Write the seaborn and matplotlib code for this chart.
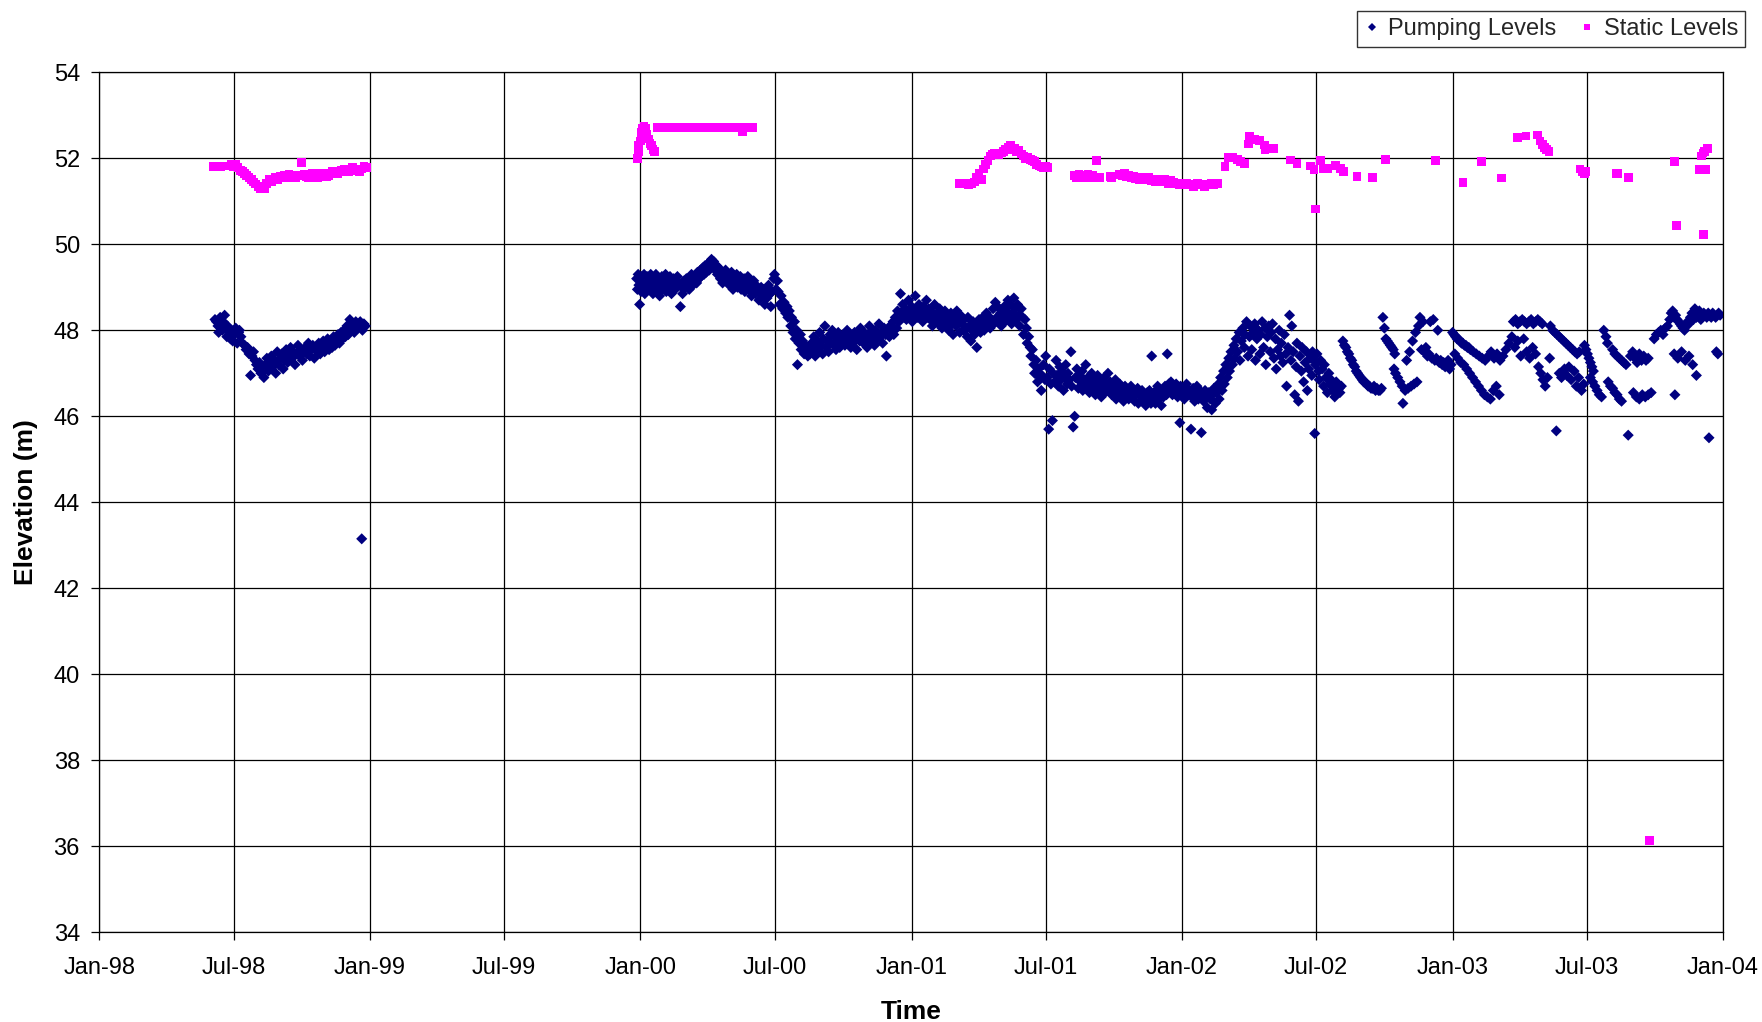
import matplotlib
matplotlib.use("Agg")
import matplotlib.pyplot as plt
import matplotlib.dates as mdates
from matplotlib.lines import Line2D
import numpy as np
import pandas as pd
import seaborn as sns

# Readings as (days since 1 Jan 1998, elevation in m)
pumping_1998 = [
    (156, 48.25), (158, 48.2), (160, 48.1), (161, 47.95), (163, 48.3), (164, 48.15), (166, 48.0),
    (167, 48.2), (169, 48.35), (170, 48.05), (172, 47.85), (173, 48.1), (175, 47.95), (177, 47.8),
    (178, 48.0), (180, 47.75), (182, 47.9), (184, 48.05), (186, 47.7), (188, 47.95), (189, 48.0),
    (191, 47.85), (193, 47.7), (196, 47.65), (198, 47.55), (200, 47.6), (202, 47.45), (204, 46.95),
    (206, 47.4), (208, 47.5), (210, 47.3), (212, 47.2), (214, 47.1), (216, 47.25), (218, 47.0),
    (220, 47.15), (222, 46.9), (224, 47.2), (226, 47.35), (228, 47.05), (230, 47.25), (232, 47.4),
    (234, 47.15), (236, 47.3), (238, 47.0), (240, 47.5), (242, 47.2), (244, 47.35), (246, 47.45),
    (248, 47.1), (250, 47.3), (252, 47.55), (254, 47.25), (256, 47.4), (258, 47.6), (260, 47.35),
    (262, 47.5), (264, 47.2), (266, 47.45), (268, 47.65), (270, 47.4), (272, 47.55), (274, 47.3),
    (276, 47.5), (278, 47.6), (280, 47.45), (282, 47.7), (284, 47.4), (286, 47.55), (288, 47.65),
    (290, 47.35), (292, 47.6), (294, 47.5), (296, 47.7), (298, 47.45), (300, 47.6), (302, 47.75),
    (304, 47.5), (306, 47.65), (308, 47.8), (310, 47.55), (312, 47.7), (314, 47.6), (316, 47.85),
    (318, 47.65), (320, 47.8), (322, 47.9), (324, 47.7), (326, 47.95), (328, 47.8), (330, 48.0),
    (332, 47.85), (334, 48.1), (336, 47.9), (338, 48.25), (340, 48.0), (342, 48.15), (344, 47.95),
    (346, 48.2), (348, 48.05), (350, 48.1), (352, 48.2), (354, 43.15), (355, 48.0), (357, 48.15),
    (359, 48.1),
]

pumping_2000 = [
    (725, 49.2), (726, 48.95), (727, 49.3), (728, 49.05), (729, 48.6), (730, 49.15), (731, 48.9),
    (732, 49.25), (734, 49.0), (735, 49.3), (736, 48.85), (738, 49.1), (739, 49.25), (741, 48.95),
    (742, 49.15), (744, 49.3), (745, 49.0), (747, 48.85), (748, 49.2), (750, 49.05), (751, 49.3),
    (753, 48.95), (754, 49.15), (756, 48.8), (757, 49.05), (759, 49.25), (760, 48.95), (762, 49.1),
    (764, 49.3), (765, 48.9), (767, 49.2), (769, 49.0), (770, 49.25), (772, 48.85), (774, 49.1),
    (775, 49.2), (777, 48.95), (779, 49.05), (780, 49.25), (782, 49.1), (784, 48.55), (786, 49.0),
    (787, 48.85), (789, 49.15), (791, 49.0), (792, 49.2), (794, 49.1), (796, 48.95), (797, 49.2),
    (799, 49.3), (801, 49.05), (802, 49.15), (804, 49.25), (806, 49.1), (807, 49.35), (809, 49.2),
    (811, 49.4), (812, 49.25), (814, 49.45), (816, 49.3), (817, 49.5), (819, 49.35), (821, 49.55),
    (823, 49.4), (824, 49.6), (826, 49.65), (828, 49.5), (829, 49.6), (831, 49.4), (833, 49.5),
    (834, 49.3), (836, 49.45), (838, 49.2), (840, 49.35), (841, 49.1), (843, 49.25), (845, 49.4),
    (846, 49.15), (848, 49.3), (850, 49.05), (851, 49.2), (853, 49.35), (855, 48.95), (856, 49.2),
    (858, 49.1), (860, 49.3), (861, 49.0), (863, 49.15), (865, 49.25), (866, 48.95), (868, 49.1),
    (870, 49.2), (871, 48.9), (873, 49.05), (875, 49.25), (876, 48.95), (878, 49.1), (880, 48.8),
    (881, 49.0), (883, 49.15), (885, 48.85), (886, 49.05), (888, 48.95), (890, 48.7), (891, 48.9),
    (893, 49.0), (895, 48.8), (896, 48.95), (898, 48.6), (900, 48.9), (901, 48.75), (903, 49.05),
    (905, 48.85), (906, 48.55), (908, 48.9), (910, 49.2), (911, 49.3), (913, 48.95), (915, 49.15),
    (916, 48.9), (918, 48.6), (920, 48.8), (922, 48.5), (924, 48.65), (926, 48.4), (928, 48.55),
    (929, 48.3), (931, 48.45), (933, 48.1), (934, 48.3), (936, 47.95), (938, 48.2), (939, 47.8),
    (941, 48.0), (942, 47.2), (944, 47.7), (946, 47.9), (947, 47.55), (949, 47.75), (951, 47.45),
    (952, 47.65), (954, 47.5), (956, 47.4), (957, 47.6), (959, 47.45), (961, 47.7), (962, 47.5),
    (964, 47.85), (966, 47.4), (967, 47.6), (969, 47.75), (971, 47.5), (972, 47.95), (974, 47.65),
    (976, 47.45), (977, 47.8), (979, 48.1), (981, 47.6), (982, 47.75), (984, 47.5), (986, 47.9),
    (987, 47.7), (989, 48.0), (991, 47.65), (992, 47.85), (994, 47.55), (996, 47.8), (997, 47.95),
    (999, 47.6), (1001, 47.85), (1002, 47.7), (1004, 47.9), (1006, 47.65), (1007, 47.8),
    (1009, 48.0), (1011, 47.75), (1012, 47.9), (1014, 47.6), (1016, 47.85), (1017, 47.7),
    (1019, 47.95), (1021, 47.8), (1022, 47.55), (1024, 47.9), (1026, 47.75), (1027, 48.05),
    (1029, 47.85), (1031, 47.7), (1032, 47.95), (1034, 47.8), (1036, 47.6), (1037, 47.9),
    (1039, 48.1), (1041, 47.75), (1042, 47.95), (1044, 47.85), (1046, 47.65), (1047, 48.0),
    (1049, 47.8), (1051, 47.9), (1052, 48.15), (1054, 47.85), (1056, 47.95), (1057, 47.7),
    (1059, 48.05), (1061, 47.9), (1062, 47.4), (1064, 48.0), (1066, 47.85), (1067, 48.1),
    (1069, 47.95), (1071, 48.2), (1072, 47.9), (1074, 48.3), (1076, 48.05), (1077, 48.45),
    (1079, 48.2), (1081, 48.85), (1082, 48.4), (1084, 48.6), (1086, 48.3), (1087, 48.5),
    (1089, 48.25), (1091, 48.45), (1092, 48.7), (1094, 48.35),
]

pumping_2001 = [
    (1096, 48.55), (1097, 48.2), (1099, 48.4), (1101, 48.8), (1102, 48.5), (1104, 48.3),
    (1106, 48.6), (1107, 48.35), (1109, 48.45), (1111, 48.2), (1112, 48.55), (1114, 48.4),
    (1116, 48.7), (1117, 48.3), (1119, 48.5), (1121, 48.25), (1122, 48.45), (1124, 48.1),
    (1126, 48.35), (1127, 48.6), (1129, 48.2), (1131, 48.4), (1132, 48.15), (1134, 48.5),
    (1136, 48.3), (1137, 48.05), (1139, 48.25), (1141, 48.45), (1142, 48.1), (1144, 48.35),
    (1146, 48.0), (1147, 48.2), (1149, 48.4), (1151, 48.15), (1152, 47.9), (1154, 48.3),
    (1156, 48.1), (1157, 48.45), (1159, 48.2), (1161, 47.95), (1162, 48.35), (1164, 48.15),
    (1166, 48.0), (1167, 48.25), (1169, 48.05), (1171, 47.85), (1172, 48.3), (1174, 48.1),
    (1176, 47.75), (1177, 48.0), (1179, 48.2), (1181, 47.9), (1182, 48.1), (1184, 47.6),
    (1186, 48.05), (1187, 48.25), (1189, 47.95), (1191, 48.15), (1192, 48.3), (1194, 48.0),
    (1196, 48.2), (1197, 48.4), (1199, 48.1), (1201, 48.3), (1202, 48.05), (1204, 48.25),
    (1206, 48.5), (1207, 48.15), (1209, 48.65), (1211, 48.3), (1212, 48.55), (1214, 48.2),
    (1216, 48.4), (1217, 48.1), (1219, 48.35), (1221, 48.55), (1222, 48.2), (1224, 48.45),
    (1226, 48.7), (1227, 48.3), (1229, 48.6), (1231, 48.15), (1232, 48.4), (1234, 48.75),
    (1236, 48.5), (1237, 48.25), (1239, 48.6), (1241, 48.35), (1242, 48.1), (1244, 48.5),
    (1246, 48.3), (1247, 47.9), (1249, 48.25), (1251, 48.05), (1252, 47.7), (1254, 47.85),
    (1256, 47.6), (1257, 47.4), (1259, 47.55), (1261, 47.2), (1262, 47.0), (1264, 47.3),
    (1266, 46.8), (1267, 47.1), (1269, 46.9), (1271, 46.6), (1272, 46.95), (1274, 47.2),
    (1276, 46.85), (1277, 47.4), (1279, 46.9), (1281, 45.7), (1282, 47.1), (1284, 46.75),
    (1286, 45.9), (1287, 47.0), (1289, 46.8), (1291, 47.3), (1292, 46.95), (1294, 46.7),
    (1296, 47.15), (1297, 46.85), (1299, 47.05), (1301, 46.6), (1302, 46.9), (1304, 47.2),
    (1306, 46.75), (1307, 47.0), (1309, 46.85), (1311, 47.5), (1312, 46.7), (1314, 45.75),
    (1316, 46.0), (1317, 46.9), (1319, 47.1), (1321, 46.65), (1322, 46.95), (1324, 46.8),
    (1326, 47.05), (1327, 46.6), (1329, 46.85), (1331, 47.2), (1332, 46.7), (1334, 46.9),
    (1336, 46.55), (1337, 46.8), (1339, 47.0), (1341, 46.65), (1342, 46.9), (1344, 46.5),
    (1346, 46.75), (1347, 46.95), (1349, 46.6), (1351, 46.8), (1352, 46.45), (1354, 46.7),
    (1356, 46.9), (1357, 46.55), (1359, 46.75), (1361, 47.0), (1362, 46.6), (1364, 46.8),
    (1366, 46.5), (1367, 46.7), (1369, 46.55), (1371, 46.85), (1372, 46.4), (1374, 46.65),
    (1376, 46.5), (1377, 46.75), (1379, 46.45), (1381, 46.6), (1382, 46.35), (1384, 46.7),
    (1386, 46.5), (1387, 46.6), (1389, 46.4), (1391, 46.55), (1392, 46.7), (1394, 46.45),
    (1396, 46.6), (1397, 46.35), (1399, 46.5), (1401, 46.65), (1402, 46.3), (1404, 46.55),
    (1406, 46.45), (1407, 46.6), (1409, 46.35), (1411, 46.5), (1412, 46.25), (1414, 46.55),
    (1416, 46.4), (1417, 46.6), (1419, 46.3), (1420, 47.4), (1421, 46.45), (1423, 46.55),
    (1425, 46.3), (1426, 46.5), (1428, 46.7), (1430, 46.4), (1431, 46.55), (1433, 46.25),
    (1435, 46.6), (1436, 46.45), (1438, 46.7), (1440, 46.5), (1441, 47.45), (1443, 46.75),
    (1445, 46.6), (1446, 46.8), (1448, 46.5), (1450, 46.7), (1451, 46.55), (1453, 46.75),
    (1455, 46.45), (1456, 46.65), (1458, 45.85), (1459, 46.7),
]

pumping_2002 = [
    (1461, 46.5), (1462, 46.65), (1464, 46.4), (1466, 46.6), (1467, 46.75), (1469, 46.5),
    (1471, 46.6), (1473, 45.7), (1474, 46.45), (1476, 46.65), (1478, 46.35), (1479, 46.55),
    (1481, 46.7), (1483, 46.4), (1485, 46.6), (1487, 45.62), (1488, 46.5), (1490, 46.35),
    (1492, 46.6), (1494, 46.45), (1495, 46.2), (1497, 46.55), (1499, 46.4), (1501, 46.15),
    (1502, 46.5), (1504, 46.65), (1506, 46.3), (1508, 46.55), (1510, 46.75), (1511, 46.4),
    (1513, 46.9), (1515, 46.6), (1517, 47.05), (1518, 46.75), (1520, 47.2), (1522, 46.9),
    (1524, 47.35), (1525, 47.05), (1527, 47.5), (1529, 47.2), (1531, 47.65), (1532, 47.35),
    (1534, 47.8), (1536, 47.5), (1538, 47.95), (1539, 47.3), (1541, 47.75), (1543, 48.05),
    (1545, 47.6), (1546, 47.9), (1548, 48.2), (1550, 47.4), (1552, 47.85), (1553, 48.1),
    (1555, 47.55), (1557, 47.95), (1559, 48.15), (1560, 47.3), (1562, 47.8), (1564, 48.0),
    (1566, 47.45), (1567, 47.9), (1569, 48.2), (1571, 47.6), (1573, 48.05), (1574, 47.2),
    (1576, 47.85), (1578, 48.1), (1580, 47.5), (1581, 47.95), (1583, 48.15), (1585, 47.35),
    (1587, 47.8), (1588, 47.1), (1590, 47.55), (1592, 48.0), (1594, 47.4), (1595, 47.7),
    (1597, 47.25), (1599, 47.9), (1601, 47.45), (1602, 46.7), (1604, 47.6), (1606, 48.35),
    (1608, 47.3), (1609, 48.1), (1611, 47.5), (1613, 46.5), (1615, 47.15), (1616, 47.7),
    (1618, 46.35), (1620, 47.4), (1622, 47.05), (1623, 47.6), (1625, 46.8), (1627, 47.25),
    (1629, 47.5), (1630, 46.6), (1632, 47.1), (1634, 47.35), (1636, 46.95), (1637, 47.5),
    (1639, 47.3), (1640, 45.6), (1641, 47.2), (1643, 47.45), (1645, 47.05), (1646, 46.85),
    (1648, 47.3), (1650, 47.1), (1652, 46.7), (1653, 47.2), (1655, 46.9), (1657, 46.55),
    (1659, 47.0), (1660, 46.75), (1662, 46.85), (1664, 46.6), (1666, 46.7), (1667, 46.45),
    (1669, 46.8), (1671, 46.6), (1673, 46.65), (1674, 46.55), (1676, 46.7), (1678, 47.75),
    (1680, 47.65), (1682, 47.6), (1684, 47.5), (1686, 47.45), (1688, 47.35), (1690, 47.3),
    (1692, 47.2), (1694, 47.15), (1696, 47.05), (1698, 47.0), (1700, 46.95), (1702, 46.9),
    (1704, 46.85), (1706, 46.8), (1708, 46.8), (1710, 46.75), (1712, 46.7), (1714, 46.7),
    (1716, 46.65), (1718, 46.65), (1720, 46.7), (1722, 46.6), (1724, 46.65), (1726, 46.6),
    (1728, 46.6), (1730, 46.65), (1732, 48.3), (1734, 48.05), (1736, 47.8), (1738, 47.75),
    (1740, 47.7), (1742, 47.65), (1744, 47.6), (1746, 47.55), (1748, 47.45), (1747, 47.1),
    (1749, 47.0), (1752, 46.9), (1755, 46.8), (1758, 46.7), (1759, 46.3), (1762, 46.6),
    (1764, 47.3), (1766, 46.65), (1768, 47.5), (1770, 46.7), (1772, 47.75), (1774, 46.75),
    (1776, 47.95), (1778, 46.8), (1780, 48.1), (1782, 48.3), (1784, 47.55), (1786, 48.2),
    (1788, 47.5), (1790, 47.6), (1792, 47.4), (1794, 47.45), (1796, 48.2), (1798, 47.35),
    (1800, 48.25), (1802, 47.3), (1804, 47.35), (1806, 48.0), (1808, 47.25), (1810, 47.3),
    (1812, 47.2), (1814, 47.25), (1816, 47.15), (1818, 47.2), (1820, 47.3), (1822, 47.1),
    (1824, 47.2),
]

pumping_2003 = [
    (1826, 47.95), (1828, 47.9), (1830, 47.85), (1832, 47.8), (1834, 47.8), (1836, 47.75),
    (1838, 47.7), (1840, 47.7), (1842, 47.65), (1844, 47.65), (1846, 47.6), (1848, 47.6),
    (1850, 47.55), (1829, 47.45), (1833, 47.35), (1837, 47.25), (1841, 47.2), (1845, 47.1),
    (1849, 47.0), (1853, 46.9), (1857, 46.8), (1861, 46.7), (1854, 47.5), (1858, 47.45),
    (1862, 47.4), (1866, 47.35), (1870, 47.3), (1874, 47.4), (1878, 47.5), (1882, 47.35),
    (1886, 47.45), (1890, 47.3), (1894, 47.4), (1898, 47.55), (1865, 46.6), (1869, 46.5),
    (1873, 46.45), (1877, 46.4), (1881, 46.6), (1885, 46.7), (1889, 46.5), (1902, 47.7),
    (1906, 47.85), (1908, 48.2), (1911, 48.25), (1914, 48.15), (1917, 48.2), (1920, 48.25),
    (1923, 48.2), (1926, 48.15), (1929, 48.2), (1932, 48.25), (1935, 48.15), (1938, 48.2),
    (1941, 48.25), (1944, 48.2), (1947, 48.15), (1910, 47.6), (1914, 47.75), (1918, 47.4),
    (1922, 47.8), (1926, 47.5), (1930, 47.35), (1934, 47.6), (1938, 47.45), (1942, 47.15),
    (1945, 47.0), (1948, 46.85), (1951, 46.7), (1954, 46.9), (1957, 47.35), (1958, 48.1),
    (1961, 48.0), (1964, 47.95), (1966, 45.66), (1967, 47.9), (1970, 47.85), (1973, 47.8),
    (1976, 47.75), (1979, 47.7), (1982, 47.65), (1985, 47.6), (1988, 47.55), (1991, 47.5),
    (1994, 47.45), (1997, 47.5), (1970, 47.0), (1973, 46.9), (1977, 47.1), (1980, 46.95),
    (1983, 47.15), (1986, 46.85), (1990, 47.05), (1993, 46.7), (1996, 46.9), (2000, 46.6),
    (2003, 46.75), (2004, 47.65), (2006, 47.55), (2008, 47.45), (2010, 47.35), (2012, 47.25),
    (2014, 47.15), (2016, 47.05), (2012, 46.9), (2015, 46.8), (2018, 46.7), (2021, 46.6),
    (2024, 46.5), (2027, 46.45), (2030, 48.0), (2033, 47.85), (2035, 47.7), (2036, 46.8),
    (2039, 46.7), (2042, 46.65), (2045, 46.55), (2048, 46.5), (2051, 46.4), (2054, 46.35),
    (2042, 47.55), (2045, 47.45), (2048, 47.4), (2051, 47.35), (2054, 47.3), (2057, 47.25),
    (2060, 47.2), (2063, 45.56), (2066, 47.4), (2069, 47.5), (2072, 47.35), (2075, 47.25),
    (2078, 47.45), (2081, 47.3), (2084, 47.4), (2087, 47.3), (2090, 47.35), (2070, 46.55),
    (2074, 46.45), (2078, 46.4), (2082, 46.5), (2086, 46.45), (2090, 46.5), (2094, 46.55),
    (2098, 47.8), (2101, 47.9), (2104, 47.95), (2107, 48.0), (2110, 47.9), (2113, 48.05),
    (2116, 48.1), (2119, 48.25), (2121, 48.4), (2123, 48.45), (2125, 48.3), (2127, 48.35),
    (2129, 48.25), (2131, 48.2), (2133, 48.15), (2135, 48.1), (2137, 48.05), (2139, 48.0),
    (2141, 48.1), (2143, 48.2), (2145, 48.15), (2147, 48.3), (2149, 48.4), (2151, 48.25),
    (2153, 48.5), (2155, 48.3), (2157, 48.35), (2159, 48.45), (2161, 48.25), (2163, 48.3),
    (2165, 48.4), (2167, 48.35), (2169, 48.3), (2171, 48.4), (2173, 48.35), (2175, 48.3),
    (2177, 48.4), (2179, 48.35), (2181, 48.3), (2183, 48.35), (2185, 48.4), (2187, 48.35),
    (2125, 47.45), (2130, 47.35), (2135, 47.5), (2140, 47.3), (2145, 47.4), (2150, 47.2),
    (2126, 46.5), (2155, 46.95), (2172, 45.5), (2182, 47.5), (2184, 47.45),
]

static_1998 = [
    (154, 51.8), (158, 51.8), (163, 51.8), (175, 51.82), (178, 51.85), (181, 51.8), (184, 51.85),
    (187, 51.78), (190, 51.72), (193, 51.7), (196, 51.65), (199, 51.6), (202, 51.55), (205, 51.5),
    (208, 51.45), (211, 51.4), (214, 51.35), (217, 51.3), (220, 51.35), (223, 51.3), (226, 51.42),
    (229, 51.5), (232, 51.45), (235, 51.52), (238, 51.55), (241, 51.5), (244, 51.58), (247, 51.55),
    (250, 51.6), (253, 51.55), (256, 51.62), (259, 51.58), (262, 51.6), (265, 51.55), (268, 51.6),
    (273, 51.9), (276, 51.62), (279, 51.58), (282, 51.55), (285, 51.6), (288, 51.65), (291, 51.6),
    (294, 51.55), (297, 51.6), (300, 51.65), (303, 51.62), (306, 51.58), (309, 51.6), (312, 51.65),
    (315, 51.7), (318, 51.68), (321, 51.65), (324, 51.7), (327, 51.72), (330, 51.75), (333, 51.7),
    (336, 51.68), (339, 51.72), (342, 51.78), (345, 51.75), (348, 51.72), (351, 51.68),
    (354, 51.75), (357, 51.8), (360, 51.78),
]

static_2000 = [
    (726, 52.0), (727, 52.15), (728, 52.3), (730, 52.4), (731, 52.6), (733, 52.7), (735, 52.75),
    (737, 52.7), (739, 52.55), (741, 52.45), (743, 52.35), (745, 52.3), (747, 52.2), (749, 52.15),
    (753, 52.72), (756, 52.72), (759, 52.72), (762, 52.72), (765, 52.72), (768, 52.72),
    (771, 52.72), (774, 52.72), (777, 52.72), (780, 52.72), (783, 52.72), (786, 52.72),
    (789, 52.72), (792, 52.72), (795, 52.72), (798, 52.72), (801, 52.72), (804, 52.72),
    (807, 52.72), (810, 52.72), (813, 52.72), (816, 52.72), (819, 52.72), (822, 52.72),
    (825, 52.72), (828, 52.72), (831, 52.72), (834, 52.72), (837, 52.72), (840, 52.72),
    (843, 52.72), (846, 52.72), (849, 52.72), (852, 52.72), (855, 52.72), (858, 52.72),
    (861, 52.72), (864, 52.72), (868, 52.62), (871, 52.72), (875, 52.72), (878, 52.72),
    (881, 52.72),
]

static_2001 = [
    (1161, 51.42), (1165, 51.4), (1169, 51.42), (1173, 51.38), (1177, 51.4), (1181, 51.45),
    (1184, 51.55), (1187, 51.65), (1190, 51.5), (1193, 51.75), (1196, 51.85), (1199, 51.95),
    (1202, 52.05), (1205, 52.1), (1208, 52.12), (1211, 52.1), (1214, 52.08), (1217, 52.12),
    (1220, 52.15), (1223, 52.2), (1226, 52.25), (1229, 52.3), (1232, 52.2), (1235, 52.22),
    (1238, 52.15), (1241, 52.18), (1244, 52.1), (1247, 52.05), (1250, 52.0), (1253, 52.02),
    (1256, 51.98), (1259, 51.95), (1262, 51.92), (1265, 51.85), (1268, 51.82), (1271, 51.8),
    (1274, 51.78), (1277, 51.8), (1280, 51.78), (1316, 51.6), (1319, 51.55), (1322, 51.62),
    (1325, 51.58), (1328, 51.6), (1331, 51.55), (1334, 51.62), (1337, 51.58), (1340, 51.6),
    (1343, 51.55), (1346, 51.95), (1350, 51.55), (1364, 51.58), (1366, 51.55), (1377, 51.62),
    (1380, 51.6), (1383, 51.65), (1386, 51.58), (1389, 51.6), (1392, 51.55), (1395, 51.58),
    (1398, 51.52), (1401, 51.55), (1404, 51.5), (1407, 51.55), (1410, 51.52), (1413, 51.5),
    (1416, 51.55), (1419, 51.48), (1422, 51.5), (1425, 51.45), (1428, 51.5), (1431, 51.48),
    (1434, 51.45), (1437, 51.5), (1440, 51.45), (1443, 51.42), (1446, 51.48), (1449, 51.45),
    (1452, 51.4), (1455, 51.42), (1458, 51.38),
]

static_2002 = [
    (1461, 51.4), (1464, 51.38), (1467, 51.42), (1470, 51.4), (1473, 51.38), (1476, 51.35),
    (1479, 51.4), (1482, 51.42), (1485, 51.38), (1488, 51.4), (1491, 51.35), (1494, 51.38),
    (1497, 51.4), (1500, 51.42), (1503, 51.38), (1506, 51.4), (1509, 51.42),
    (1519, 51.8), (1524, 52.02), (1529, 52.02), (1536, 51.98), (1540, 51.92), (1545, 51.88),
    (1551, 52.33), (1552, 52.52), (1559, 52.44), (1566, 52.42), (1572, 52.31), (1573, 52.21),
    (1584, 52.23), (1607, 51.96), (1616, 51.88), (1634, 51.82), (1639, 51.73), (1641, 50.82),
    (1648, 51.94), (1652, 51.77), (1657, 51.77), (1668, 51.84), (1675, 51.77), (1679, 51.69),
    (1697, 51.57), (1718, 51.55), (1735, 51.97), (1803, 51.95),
]

static_2003 = [
    (1840, 51.43), (1865, 51.92), (1892, 51.54), (1914, 52.48), (1925, 52.52), (1941, 52.54),
    (1944, 52.4), (1947, 52.32), (1950, 52.25), (1953, 52.2), (1956, 52.15), (1998, 51.75),
    (2001, 51.7), (2004, 51.65), (2006, 51.7), (2047, 51.65), (2049, 51.65), (2063, 51.55),
    (2092, 36.13), (2125, 51.92), (2128, 50.43), (2159, 51.74), (2162, 52.05), (2164, 52.12),
    (2166, 52.15), (2168, 51.74), (2170, 52.22), (2165, 50.22),
]

series_names = ["Pumping Levels", "Static Levels"]
series_colors = {"Pumping Levels": "#000080", "Static Levels": "#FF00FF"}
series_markers = {"Pumping Levels": "D", "Static Levels": "s"}

origin = pd.Timestamp("1998-01-01")


def to_frame(rows, name):
    days, elev = zip(*rows)
    return pd.DataFrame({
        "date": origin + pd.to_timedelta(np.array(days), unit="D"),
        "elev": elev,
        "series": name,
    })


pumping = pd.concat([to_frame(r, "Pumping Levels")
                     for r in (pumping_1998, pumping_2000, pumping_2001, pumping_2002, pumping_2003)])
static = pd.concat([to_frame(r, "Static Levels")
                    for r in (static_1998, static_2000, static_2001, static_2002, static_2003)])

sns.set_theme(style="white")
plt.rcParams["font.family"] = ["Liberation Sans", "DejaVu Sans"]

fig = plt.figure(figsize=(17.62, 10.22), dpi=100)
ax = fig.add_axes([0.0564, 0.0878, 0.9215, 0.8415])
ax.set_axisbelow(True)

sns.scatterplot(data=pumping, x="date", y="elev", ax=ax, marker="D", s=32,
                color=series_colors["Pumping Levels"], edgecolor="none", linewidth=0,
                legend=False, zorder=3)
sns.scatterplot(data=static, x="date", y="elev", ax=ax, marker="s", s=40,
                color=series_colors["Static Levels"], edgecolor="none", linewidth=0,
                legend=False, zorder=3)

ax.set_xlim(pd.Timestamp("1998-01-01"), pd.Timestamp("2004-01-01"))
ax.set_ylim(34, 54)
ax.set_yticks(np.arange(34, 55, 2))
ax.xaxis.set_major_locator(mdates.MonthLocator(bymonth=[1, 7]))
ax.xaxis.set_major_formatter(mdates.DateFormatter("%b-%y"))

ax.grid(True, color="black", linewidth=0.9)
for side in ["left", "bottom", "top", "right"]:
    ax.spines[side].set_color("black")
    ax.spines[side].set_linewidth(0.9)

ax.tick_params(axis="both", which="major", direction="out", length=6, width=0.9,
               color="black", labelsize=17, labelcolor="black", pad=8,
               left=True, bottom=True)
ax.tick_params(axis="x", pad=12)

ax.set_xlabel("Time", fontsize=19, fontweight="bold", color="black")
ax.set_ylabel("Elevation (m)", fontsize=19, fontweight="bold", color="black")
ax.xaxis.label.set_va("center")
ax.yaxis.label.set_va("center")
ax.xaxis.set_label_coords(0.5, -0.093)
ax.yaxis.set_label_coords(-0.045, 0.5)

handles = [Line2D([], [], linestyle="none", marker=series_markers[n], color=series_colors[n],
                  markersize=5 if n == "Static Levels" else 4.5, markeredgewidth=0)
           for n in series_names]
leg = fig.legend(handles, series_names, loc="upper right", bbox_to_anchor=(0.9904, 0.989),
                 ncol=2, fontsize=17, frameon=True, fancybox=False, handlelength=0.6,
                 handletextpad=0.4, columnspacing=1.0, borderpad=0.3, borderaxespad=0)
leg.get_frame().set_edgecolor("black")
leg.get_frame().set_linewidth(1.0)

fig.savefig("out.png", dpi=100, facecolor="white")
